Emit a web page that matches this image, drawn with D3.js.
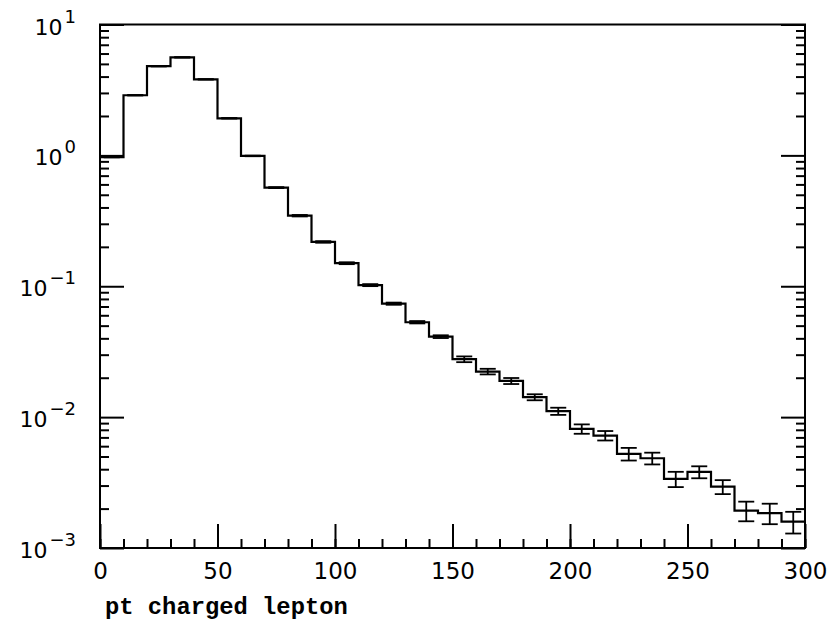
<!DOCTYPE html>
<html>
<head>
<meta charset="utf-8">
<script src="https://cdn.jsdelivr.net/npm/d3@7"></script>
<style>
  body { margin: 0; background: #fff; }
  .axis path.domain { display: none; }
  .axis line { stroke: #000; stroke-width: 2; }
  .axis text { font-family: "DejaVu Sans", sans-serif; font-size: 23px; fill: #000; }
</style>
</head>
<body>
<svg id="chart" width="835" height="637"></svg>
<script>
// bin lower edges (pt, GeV), bin contents and their errors
let bin_edges = d3.range(0, 300, 10)
let values = [0.97, 2.88, 4.80, 5.61, 3.81, 1.92, 0.99, 0.567, 0.346, 0.218,
  0.150, 0.102, 0.0736, 0.0531, 0.0412, 0.0277, 0.0223, 0.0189, 0.0142, 0.0111,
  0.00813, 0.00723, 0.00524, 0.00485, 0.00337, 0.00381, 0.00294, 0.00193, 0.00185, 0.00159]
let errors = [0.004, 0.012, 0.02, 0.022, 0.016, 0.009, 0.005, 0.005, 0.0045, 0.003,
  0.0025, 0.0018, 0.0014, 0.0011, 0.001, 0.0014, 0.0011, 0.001, 0.00075, 0.0007,
  0.00067, 0.0006, 0.00058, 0.0005, 0.00045, 0.0004, 0.00036, 0.00033, 0.00033, 0.0003]
let x_major = [0, 50, 100, 150, 200, 250, 300]
let y_major = [-3, -2, -1, 0, 1]
let x_title = "pt charged lepton"

let margin = {top: 24.5, right: 30, bottom: 89, left: 100}
let width = 835, height = 637

function make_scales() {
  return {
    x: d3.scaleLinear()
      .domain([0, 300])
      .range([margin.left, width - margin.right]),
    y: d3.scaleLog()
      .domain([1e-3, 10])
      .range([height - margin.bottom, margin.top])
  }
}

function draw_frame(svg, scales) {
  let [x0, x1] = scales.x.range()
  let [y0, y1] = scales.y.range()
  svg.append("rect")
    .attr("x", x0).attr("y", y1)
    .attr("width", x1 - x0).attr("height", y0 - y1)
    .attr("fill", "none").attr("stroke", "#000").attr("stroke-width", 2)
}

function draw_axes(svg, scales) {
  let y_minor = []
  for (let e = -3; e < 1; e++) {
    for (let m = 2; m < 10; m++) y_minor.push(m * Math.pow(10, e))
  }
  let y_major_vals = y_major.map(e => Math.pow(10, e))
  let [x0, x1] = scales.x.range()
  let [y0, y1] = scales.y.range()

  // x axis: only at the bottom
  svg.append("g").attr("class", "axis")
    .attr("transform", `translate(0, ${y0})`)
    .call(d3.axisBottom(scales.x).tickValues(d3.range(0, 301, 10)).tickSize(-9).tickFormat(""))
  svg.append("g").attr("class", "axis")
    .attr("transform", `translate(0, ${y0})`)
    .call(d3.axisBottom(scales.x).tickValues(x_major).tickSize(-24).tickPadding(15).tickFormat(d3.format("d")))

  // y axes, left and right, ticks pointing inward
  svg.append("g").attr("class", "axis")
    .attr("transform", `translate(${x0}, 0)`)
    .call(d3.axisLeft(scales.y).tickValues(y_minor).tickSize(-9).tickFormat(""))
  svg.append("g").attr("class", "axis")
    .attr("transform", `translate(${x0}, 0)`)
    .call(d3.axisLeft(scales.y).tickValues(y_major_vals).tickSize(-24).tickFormat(""))
  svg.append("g").attr("class", "axis")
    .attr("transform", `translate(${x1}, 0)`)
    .call(d3.axisRight(scales.y).tickValues(y_minor).tickSize(-9).tickFormat(""))
  svg.append("g").attr("class", "axis")
    .attr("transform", `translate(${x1}, 0)`)
    .call(d3.axisRight(scales.y).tickValues(y_major_vals).tickSize(-24).tickFormat(""))

  // y tick labels as 10^n
  let labels = svg.append("g")
    .attr("font-family", "DejaVu Sans, sans-serif")
    .attr("fill", "#000")
  y_major.forEach(e => {
    let t = labels.append("text")
      .attr("x", 76)
      .attr("y", scales.y(Math.pow(10, e)) + 10)
      .attr("text-anchor", "end")
      .attr("font-size", 22)
    t.append("tspan").text("10")
    t.append("tspan").attr("dy", -12).attr("dx", 2).attr("font-size", 18)
      .text(e < 0 ? "\u2212" + (-e) : String(e))
  })

  svg.append("text")
    .attr("x", 105)
    .attr("y", 614)
    .attr("font-family", "Courier New, Liberation Mono, monospace")
    .attr("font-weight", "bold")
    .attr("font-size", 23.8)
    .attr("fill", "#000")
    .text(x_title)
}

function draw_histogram(svg, scales) {
  let pts = bin_edges.map((e, i) => [e, values[i]])
  pts.push([300, values[values.length - 1]])
  let step = d3.line()
    .x(d => scales.x(d[0]))
    .y(d => scales.y(d[1]))
    .curve(d3.curveStepAfter)
  svg.append("path")
    .attr("d", step(pts))
    .attr("fill", "none")
    .attr("stroke", "#000")
    .attr("stroke-width", 2.2)

  let bars = svg.append("g").attr("stroke", "#000").attr("stroke-width", 1.8)
  let cap = 8
  bin_edges.forEach((e, i) => {
    let cx = scales.x(e + 5)
    let lo = scales.y(values[i] - errors[i])
    let hi = scales.y(values[i] + errors[i])
    bars.append("line").attr("x1", cx).attr("x2", cx).attr("y1", lo).attr("y2", hi)
    bars.append("line").attr("x1", cx - cap).attr("x2", cx + cap).attr("y1", lo).attr("y2", lo)
    bars.append("line").attr("x1", cx - cap).attr("x2", cx + cap).attr("y1", hi).attr("y2", hi)
  })
}

let svg = d3.select("#chart")
let scales = make_scales()
draw_histogram(svg, scales)
draw_axes(svg, scales)
draw_frame(svg, scales)
</script>
</body>
</html>
